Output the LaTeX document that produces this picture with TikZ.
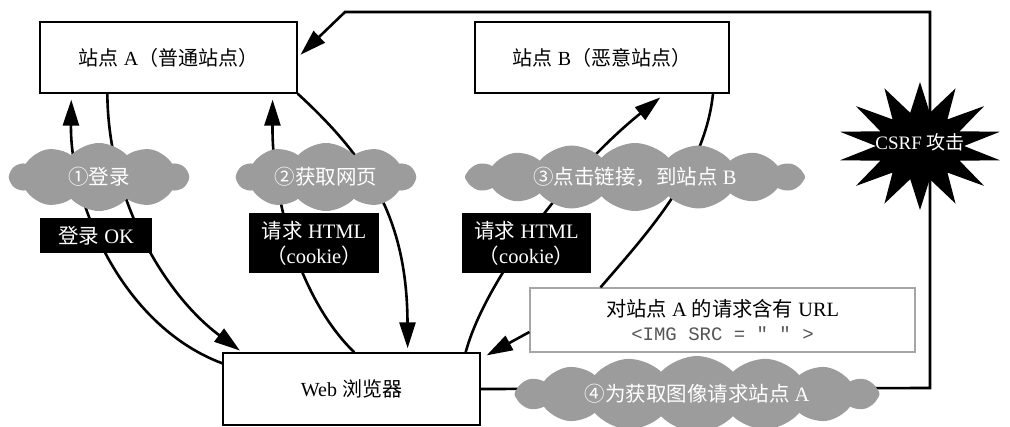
\documentclass[tikz,border=0pt]{standalone}
\usepackage{fontspec}
\setmainfont{Liberation Serif}
\setmonofont{Liberation Mono}
\newfontfamily\cjk{Noto Sans CJK SC}
\usetikzlibrary{shapes.symbols,arrows.meta,calc}
\definecolor{cloudgray}{HTML}{9C9C9C}
\definecolor{codegray}{HTML}{555555}
\tikzset{
  site/.style={draw, line width=1.3pt, fill=white, inner sep=0pt},
  cloudy/.style={cloud, cloud ignores aspect, cloud puff arc=95, fill=cloudgray, text=white, inner sep=0pt, font=\fontsize{20.5}{24}\selectfont},
  blackbox/.style={fill=black, text=white, align=center, inner sep=0pt, font=\fontsize{20.5}{25}\selectfont},
  conn/.style={line width=2.6pt},
  arr/.style={conn, -{Triangle[length=26pt,width=16pt]}},
}
\begin{document}
\begin{tikzpicture}[x=1pt,y=-1pt,font=\fontsize{20}{24}\selectfont]
\useasboundingbox (0,0) rectangle (1010,426);
% boxes
\node[site, minimum width=257pt, minimum height=71pt] (A) at (168.5,57.5) {{\cjk 站点} A{\cjk （普通站点）}};
\node[site, minimum width=254pt, minimum height=71pt] (B) at (602,57.5) {{\cjk 站点} B{\cjk （恶意站点）}};
\node[site, minimum width=257pt, minimum height=72pt] (browser) at (351.5,389) {Web {\cjk 浏览器}};
\node[draw=gray!70, line width=1.2pt, fill=white, minimum width=385pt, minimum height=64pt, align=center, inner sep=0pt, font=\fontsize{20.3}{23}\selectfont] (url) at (722.5,320)
  {{\cjk 对站点} A {\cjk 的请求含有} URL\\[1pt] {\ttfamily\fontsize{19}{22}\selectfont\color{codegray}<IMG SRC = " " >}};
% CSRF path coordinates
\coordinate (c1) at (930,388);
\coordinate (c2) at (930,12);
\coordinate (c3) at (345,12);
% connectors
\draw[arr, shorten >=6pt] ([yshift=-11pt]browser.north west) .. controls (120,325) and (70,200) .. ([xshift=32pt]A.south west);
\draw[arr, shorten >=3pt] ([xshift=68pt]A.south west) .. controls (108,200) and (165,295) .. ([xshift=20pt]browser.north west);
\draw[arr, shorten >=6pt] ([xshift=132pt]browser.north west) .. controls (300,300) and (272,200) .. ([xshift=-25pt]A.south east);
\draw[arr, shorten >=4pt] (A.south east) .. controls (370,160) and (407,220) .. ([xshift=-73pt]browser.north east);
\draw[arr, shorten >=6pt] ([xshift=-15pt]browser.north east) .. controls (485,280) and (570,170) .. ([xshift=63pt]B.south);
\draw[conn] ([xshift=111pt]B.south) .. controls (705,170) and (650,230) .. ([xshift=-122pt]url.north);
\draw[arr] ([yshift=-12pt]url.west) -- ([xshift=6pt,yshift=-3pt]browser.north east);
\draw[arr, shorten >=4pt] (browser.east) -- (c1) -- (c2) -- (c3) -- (A.east);
% clouds
\node[cloudy, cloud puffs=10, minimum width=178pt, minimum height=68pt] (cl1) at (99,177) {{\cjk ①登录}};
\node[cloudy, cloud puffs=10, minimum width=178pt, minimum height=68pt] (cl2) at (326,177) {{\cjk ②获取网页}};
\node[cloudy, cloud puffs=16, minimum width=340pt, minimum height=68pt] (cl3) at (635,177) {{\cjk ③点击链接，到站点} B};
\node[cloudy, cloud puffs=16, minimum width=365pt, minimum height=76pt] (cl4) at (697,394) {{\cjk ④为获取图像请求站点} A};
% black label boxes
\node[blackbox, minimum width=112pt, minimum height=35pt] (lb1) at (96,235.5) {{\cjk 登录} OK};
\node[blackbox, minimum width=130pt, minimum height=60pt] (lb2) at (314,243) {{\cjk 请求} HTML\\{\cjk （}cookie{\cjk ）}};
\node[blackbox, minimum width=129pt, minimum height=60pt] (lb3) at (526.5,243) {{\cjk 请求} HTML\\{\cjk （}cookie{\cjk ）}};
% star
\fill[black] plot[samples at={0,...,27}, variable=\k]
  ({920+ifthenelse(mod(\k,2)==0,82,44)*cos(\k*360/28+90)}, {146+ifthenelse(mod(\k,2)==0,64,34)*sin(\k*360/28+90)}) -- cycle;
\node[text=white, inner sep=0pt, font=\fontsize{19}{22}\selectfont] (csrf) at (920,142) {CSRF {\cjk 攻击}};
\end{tikzpicture}
\end{document}
